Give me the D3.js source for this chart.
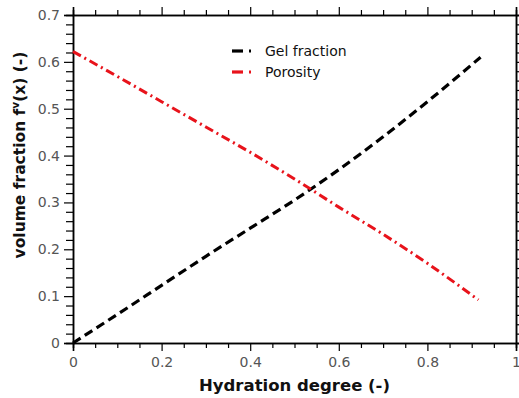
<!DOCTYPE html>
<html>
<head>
<meta charset="utf-8">
<script src="https://cdn.jsdelivr.net/npm/d3@7"></script>
<style>
  html, body { margin: 0; padding: 0; background: #fff; }
  svg { display: block; font-family: "DejaVu Sans", sans-serif; }
</style>
</head>
<body>
<svg id="chart" width="519" height="398"></svg>
<script>
// Hydration degree samples and volume fractions
const hydration = [0, 0.1, 0.2, 0.3, 0.4, 0.5, 0.6, 0.7, 0.8, 0.92];
const gelFraction = [0, 0.061, 0.123, 0.185, 0.245, 0.305, 0.37, 0.44, 0.515, 0.61];
const porosityX = [0, 0.1, 0.2, 0.3, 0.4, 0.5, 0.6, 0.7, 0.8, 0.915];
const porosity = [0.622, 0.569, 0.515, 0.461, 0.407, 0.35, 0.29, 0.232, 0.17, 0.092];

const xTicks = [0, 0.2, 0.4, 0.6, 0.8, 1];
const xTickLabels = ["0", "0.2", "0.4", "0.6", "0.8", "1"];
const yTicks = [0, 0.1, 0.2, 0.3, 0.4, 0.5, 0.6, 0.7];
const yTickLabels = ["0", "0.1", "0.2", "0.3", "0.4", "0.5", "0.6", "0.7"];
const seriesNames = ["Gel fraction", "Porosity"];

const margin = { left: 73, right: 3, top: 15, bottom: 55 };
const W = 519, H = 398;
const svg = d3.select("#chart");

const x = d3.scaleLinear().domain([0, 1]).range([margin.left, W - margin.right]);
const y = d3.scaleLinear().domain([0, 0.7]).range([H - margin.bottom, margin.top]);

const xMinor = d3.range(0, 1.0001, 0.05).filter(v => Math.abs(v * 5 - Math.round(v * 5)) > 1e-6);
const yMinor = d3.range(0, 0.7001, 0.02).filter(v => Math.abs(v * 10 - Math.round(v * 10)) > 1e-6);

const tickColor = "#000";
const labelColor = "#555";

function styleAxis(g) {
  g.selectAll(".domain").attr("stroke", tickColor).attr("stroke-width", 1.5);
  g.selectAll(".tick line").attr("stroke", tickColor).attr("stroke-width", 1.2);
  g.selectAll(".tick text").attr("fill", labelColor).style("font-size", "14px")
    .style("font-family", "'DejaVu Sans', sans-serif");
}

// bottom axis: major with labels + minor
svg.append("g").attr("transform", `translate(0,${y(0)})`)
  .call(d3.axisBottom(x).tickValues(xTicks).tickFormat((d, i) => xTickLabels[i]).tickSize(8).tickPadding(6))
  .call(styleAxis);
svg.append("g").attr("transform", `translate(0,${y(0)})`)
  .call(d3.axisBottom(x).tickValues(xMinor).tickFormat("").tickSize(5))
  .call(styleAxis);
// top axis
svg.append("g").attr("transform", `translate(0,${y(0.7)})`)
  .call(d3.axisTop(x).tickValues(xTicks).tickFormat("").tickSize(8))
  .call(styleAxis);
svg.append("g").attr("transform", `translate(0,${y(0.7)})`)
  .call(d3.axisTop(x).tickValues(xMinor).tickFormat("").tickSize(5))
  .call(styleAxis);
// left axis
svg.append("g").attr("transform", `translate(${x(0)},0)`)
  .call(d3.axisLeft(y).tickValues(yTicks).tickFormat((d, i) => yTickLabels[i]).tickSize(9).tickPadding(4))
  .call(styleAxis);
svg.append("g").attr("transform", `translate(${x(0)},0)`)
  .call(d3.axisLeft(y).tickValues(yMinor).tickFormat("").tickSize(7))
  .call(styleAxis);
// right axis
svg.append("g").attr("transform", `translate(${x(1)},0)`)
  .call(d3.axisRight(y).tickValues(yTicks).tickFormat("").tickSize(9))
  .call(styleAxis);
svg.append("g").attr("transform", `translate(${x(1)},0)`)
  .call(d3.axisRight(y).tickValues(yMinor).tickFormat("").tickSize(7))
  .call(styleAxis);

const line = d3.line().x(d => x(d[0])).y(d => y(d[1])).curve(d3.curveMonotoneX);

const gelDash = "9,5";
const porDash = "9,4,2,4";
const gelColor = "#000";
const porColor = "#e8131b";

svg.append("path")
  .datum(hydration.map((h, i) => [h, gelFraction[i]]))
  .attr("d", line).attr("fill", "none")
  .attr("stroke", gelColor).attr("stroke-width", 3.2)
  .attr("stroke-dasharray", gelDash);

svg.append("path")
  .datum(porosityX.map((h, i) => [h, porosity[i]]))
  .attr("d", line).attr("fill", "none")
  .attr("stroke", porColor).attr("stroke-width", 3)
  .attr("stroke-dasharray", porDash);

// legend
const legend = svg.append("g").attr("transform", "translate(232,51)");
const legendItems = [
  { name: seriesNames[0], color: gelColor },
  { name: seriesNames[1], color: porColor }
];
legendItems.forEach((it, i) => {
  const g = legend.append("g").attr("transform", `translate(0,${i * 21})`);
  g.append("line").attr("x1", 0).attr("x2", 11).attr("y1", 0).attr("y2", 0)
    .attr("stroke", it.color).attr("stroke-width", 3.2);
  g.append("line").attr("x1", 17).attr("x2", 19).attr("y1", 0).attr("y2", 0)
    .attr("stroke", it.color).attr("stroke-width", 3);
  g.append("text").attr("x", 33).attr("y", 5)
    .style("font-size", "14px").attr("fill", "#111").text(it.name);
});

// axis titles
svg.append("text")
  .attr("x", (x(0) + x(1)) / 2).attr("y", 391)
  .attr("text-anchor", "middle")
  .style("font-size", "16.5px").style("font-weight", "bold").attr("fill", "#111")
  .text("Hydration degree (-)");

const yt = svg.append("text")
  .attr("transform", "translate(25,155) rotate(-90)")
  .attr("text-anchor", "middle")
  .style("font-size", "15.5px").style("font-weight", "bold").attr("fill", "#111");
yt.append("tspan").text("volume fraction f");
yt.append("tspan").attr("dy", -6).style("font-size", "10.5px").text("v");
yt.append("tspan").attr("dy", 6).text("(x) (-)");
</script>
</body>
</html>
